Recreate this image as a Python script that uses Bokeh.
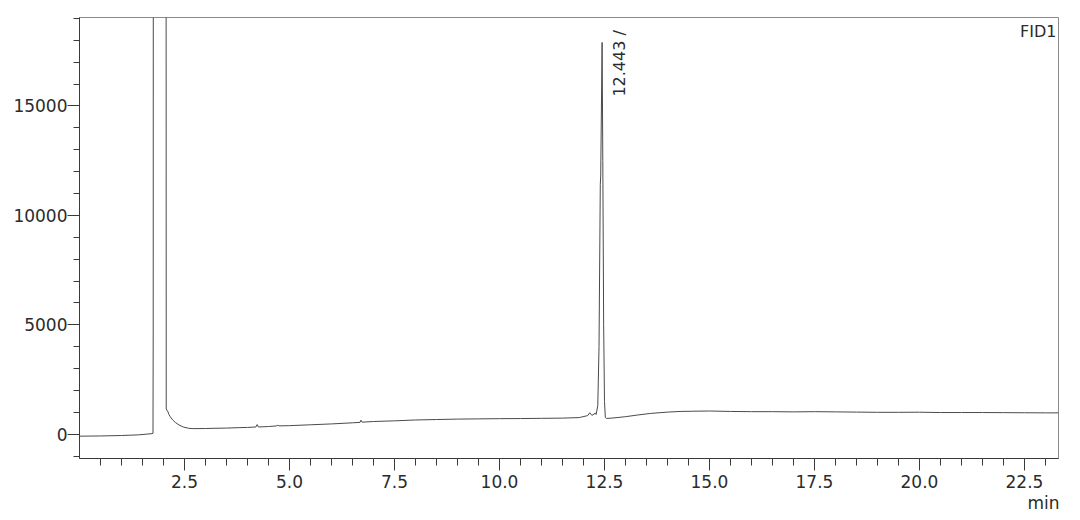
from bokeh.plotting import figure
from bokeh.models import FixedTicker, PrintfTickFormatter, Range1d, Label, ColumnDataSource, Title
from bokeh.embed import file_html
from bokeh.resources import INLINE
from bokeh.core.properties import value

# ---- data ----
time_min = [0.00, 0.50, 1.00, 1.40, 1.70, 1.750, 1.755, 1.760, 2.060, 2.065,
            2.10, 2.13, 2.16, 2.22, 2.28, 2.37, 2.47, 2.60, 2.70, 3.00,
            3.20, 3.50, 3.80, 4.00, 4.20, 4.23, 4.26, 4.50, 4.70, 4.72,
            4.75, 5.00, 5.50, 6.00, 6.50, 6.68, 6.70, 6.73, 7.00, 7.50,
            8.00, 8.50, 9.00, 9.50, 10.00, 10.50, 11.00, 11.50, 11.90, 12.10,
            12.15, 12.20, 12.28, 12.30, 12.34, 12.37, 12.40, 12.41, 12.443, 12.46,
            12.48, 12.50, 12.52, 12.55, 12.70, 13.00, 13.30, 13.60, 14.00, 14.30,
            14.60, 15.00, 15.50, 16.00, 16.50, 17.00, 17.50, 18.00, 18.50, 19.00,
            19.50, 20.00, 20.50, 21.00, 21.50, 22.00, 22.50, 23.00, 23.31]
signal = [-90, -80, -60, -30, 20, 40, 4800, 40000, 40000, 1150,
          1050, 900, 800, 650, 540, 420, 330, 270, 255, 260,
          270, 280, 300, 310, 330, 440, 330, 350, 380, 420,
          380, 390, 430, 470, 520, 540, 640, 550, 580, 610,
          650, 670, 690, 700, 710, 715, 725, 735, 760, 850,
          980, 860, 960, 900, 1300, 4000, 11400, 11800, 17900, 12500,
          5000, 1500, 760, 720, 740, 800, 880, 950, 1010, 1040,
          1050, 1060, 1040, 1030, 1030, 1020, 1030, 1020, 1010, 1000,
          1000, 1005, 990, 990, 990, 985, 980, 975, 975]

peak_time = [12.443]
peak_label_y = [15425]
peak_labels = ["12.443 /"]

x_major = [2.5, 5.0, 7.5, 10.0, 12.5, 15.0, 17.5, 20.0, 22.5]
x_minor = [i * 0.5 for i in range(1, 47)]
y_major = [0, 5000, 10000, 15000]
y_minor = [i * 1000 for i in range(-1, 20)]

FONT = "DejaVu Sans"
TXT = "#2b2b2b"

p = figure(frame_width=979, frame_height=441,
           x_range=Range1d(0, 23.31), y_range=Range1d(-1110, 19040),
           output_backend="svg", toolbar_location=None,
           min_border_left=79, min_border_right=20, min_border_top=17, min_border_bottom=0,
           background_fill_color="white", border_fill_color="white")

p.grid.visible = False
p.outline_line_color = "#8a8a8a"
p.outline_line_width = 1

p.line(time_min, signal, line_color="#4a4a4a", line_width=1)

src = ColumnDataSource(dict(x=peak_time, y=peak_label_y, t=peak_labels))
p.text(x="x", y="y", text="t", source=src, angle=1.5708, x_offset=17,
       text_align="left", text_baseline="middle",
       text_font=value(FONT), text_font_size="16px", text_color=TXT)

for ax, maj, mnr in ((p.xaxis[0], x_major, x_minor), (p.yaxis[0], y_major, y_minor)):
    ax.ticker = FixedTicker(ticks=maj, minor_ticks=mnr)
    ax.axis_line_color = "#3a3a3a"
    ax.major_tick_line_color = "#3a3a3a"
    ax.minor_tick_line_color = "#3a3a3a"
    ax.major_tick_in = 0
    ax.minor_tick_in = 0
    ax.major_label_text_font = FONT
    ax.major_label_text_font_size = "17px"
    ax.major_label_text_color = TXT

p.xaxis.formatter = PrintfTickFormatter(format="%.1f")
p.yaxis.formatter = PrintfTickFormatter(format="%d")
p.xaxis.major_tick_out = 12
p.xaxis.minor_tick_out = 7
p.xaxis.major_label_standoff = 4
p.yaxis.major_tick_out = 12
p.yaxis.minor_tick_out = 6
p.yaxis.major_label_standoff = 0

p.add_layout(Label(x=23.31, y=19040, x_offset=-2, y_offset=-4, text="FID1",
                   text_align="right", text_baseline="top",
                   text_font=FONT, text_font_size="16px", text_color=TXT))
p.add_layout(Title(text="min", align="right", offset=-1, standoff=0,
                   text_font=FONT, text_font_size="17px", text_font_style="normal",
                   text_color=TXT), "below")

open("out.html", "w").write(file_html(p, INLINE))
